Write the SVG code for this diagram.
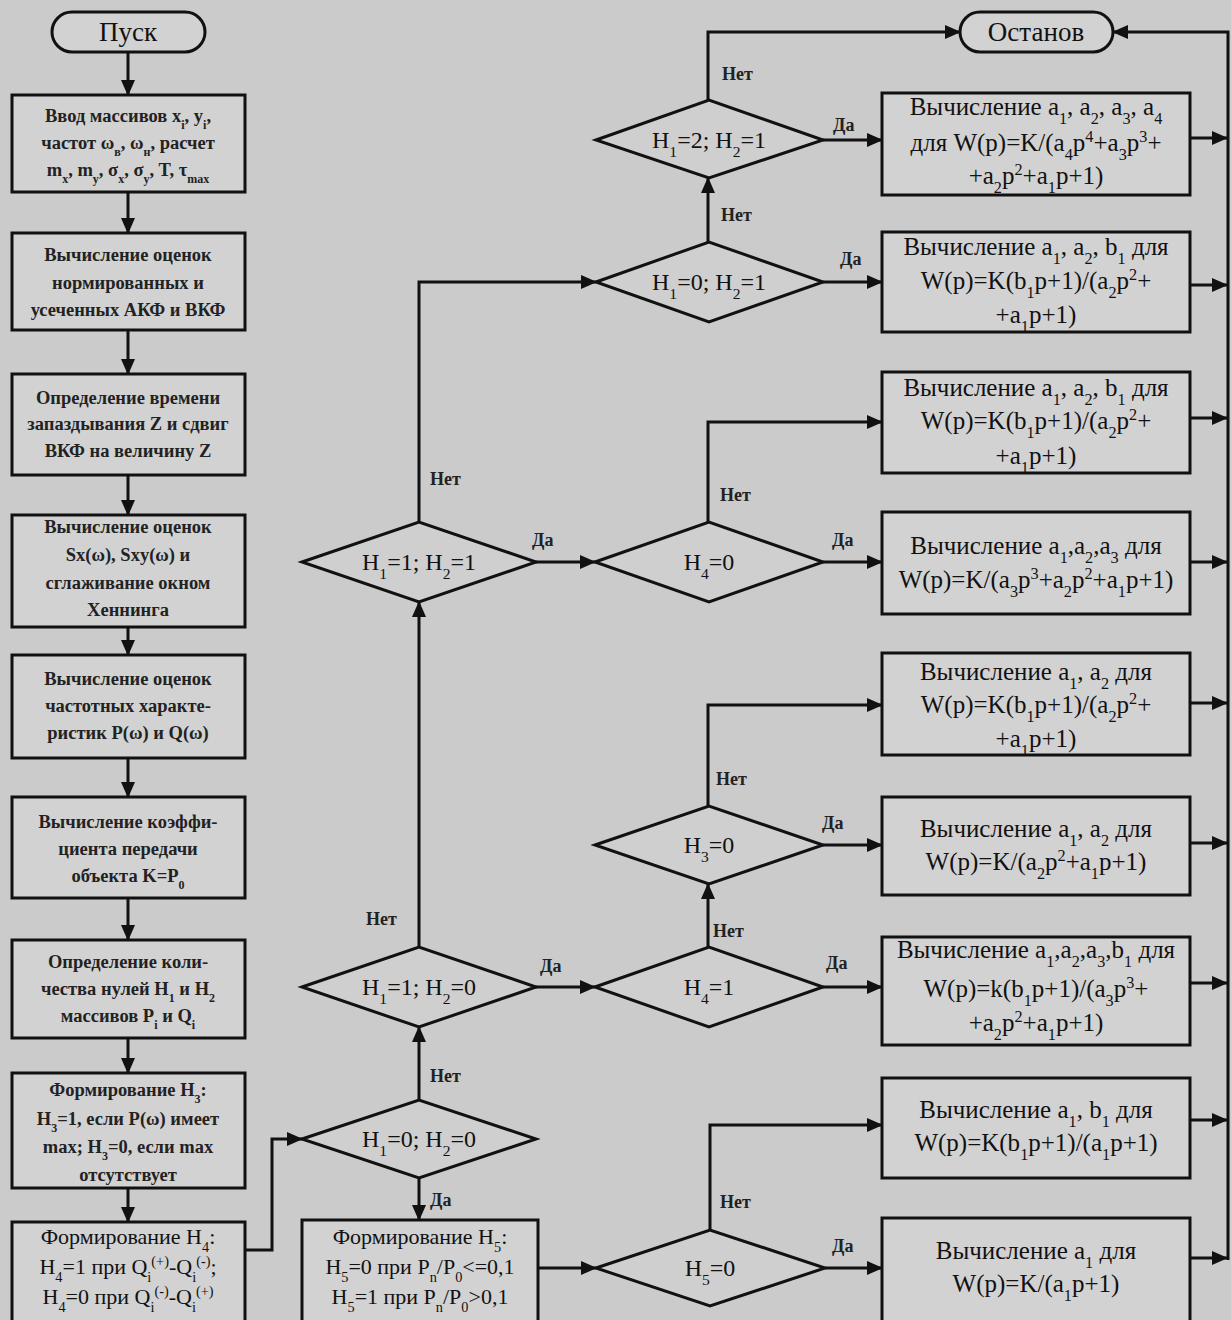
<svg xmlns="http://www.w3.org/2000/svg" width="1231" height="1320" viewBox="0 0 1231 1320">
<defs>
<marker id="ah" markerWidth="16" markerHeight="14" refX="15" refY="7" orient="auto" markerUnits="userSpaceOnUse">
<path d="M0,0 L16,7 L0,14 Z" fill="#111"/>
</marker>
<style>
.bg{fill:#cbcbcb}
.box{fill:#d2d2d2;stroke:#111;stroke-width:3}
.dia{fill:#cfcfcf;stroke:#111;stroke-width:3}
.ln{fill:none;stroke:#111;stroke-width:3}
.lt{font-family:"Liberation Serif",serif;font-size:18.5px;font-weight:bold;fill:#222;text-anchor:middle}
.lt2{font-family:"Liberation Serif",serif;font-size:22px;fill:#111;text-anchor:middle}
.rt{font-family:"Liberation Serif",serif;font-size:25px;fill:#111;text-anchor:middle}
.dt{font-family:"Liberation Serif",serif;font-size:24px;fill:#111;text-anchor:middle}
.tt{font-family:"Liberation Serif",serif;font-size:27px;fill:#111;text-anchor:middle}
.lb{font-family:"Liberation Serif",serif;font-size:18px;font-weight:bold;fill:#222}
.s{font-size:65%;baseline-shift:sub}
.p{font-size:65%;baseline-shift:super}
</style>
</defs>
<rect class="bg" x="0" y="0" width="1231" height="1320"/>

<g id="connectors">
<path class="ln" d="M128,52 V95" marker-end="url(#ah)"/>
<path class="ln" d="M128,192 V233" marker-end="url(#ah)"/>
<path class="ln" d="M128,330 V374" marker-end="url(#ah)"/>
<path class="ln" d="M128,475 V515" marker-end="url(#ah)"/>
<path class="ln" d="M128,627 V655" marker-end="url(#ah)"/>
<path class="ln" d="M128,758 V797" marker-end="url(#ah)"/>
<path class="ln" d="M128,898 V940" marker-end="url(#ah)"/>
<path class="ln" d="M128,1038 V1073" marker-end="url(#ah)"/>
<path class="ln" d="M128,1188 V1222" marker-end="url(#ah)"/>
<path class="ln" d="M245,1250 H272 V1139 H302" marker-end="url(#ah)"/>
<path class="ln" d="M419,1178 V1220" marker-end="url(#ah)"/>
<path class="ln" d="M419,1100 V1027" marker-end="url(#ah)"/>
<path class="ln" d="M419,947 V602" marker-end="url(#ah)"/>
<path class="ln" d="M419,522 V282 H596" marker-end="url(#ah)"/>
<path class="ln" d="M535,562 H595" marker-end="url(#ah)"/>
<path class="ln" d="M535,987 H595" marker-end="url(#ah)"/>
<path class="ln" d="M823,562 H882" marker-end="url(#ah)"/>
<path class="ln" d="M708,522 V422 H882" marker-end="url(#ah)"/>
<path class="ln" d="M823,987 H882" marker-end="url(#ah)"/>
<path class="ln" d="M708,947 V884" marker-end="url(#ah)"/>
<path class="ln" d="M823,845 H882" marker-end="url(#ah)"/>
<path class="ln" d="M708,806 V705 H882" marker-end="url(#ah)"/>
<path class="ln" d="M823,282 H882" marker-end="url(#ah)"/>
<path class="ln" d="M708,242 V178" marker-end="url(#ah)"/>
<path class="ln" d="M823,140 H882" marker-end="url(#ah)"/>
<path class="ln" d="M708,100 V32 H960" marker-end="url(#ah)"/>
<path class="ln" d="M538,1268 H596" marker-end="url(#ah)"/>
<path class="ln" d="M710,1230 V1125 H882" marker-end="url(#ah)"/>
<path class="ln" d="M825,1268 H882" marker-end="url(#ah)"/>
<path class="ln" d="M1190,138 H1227" marker-end="url(#ah)"/>
<path class="ln" d="M1190,285 H1227" marker-end="url(#ah)"/>
<path class="ln" d="M1190,418 H1227" marker-end="url(#ah)"/>
<path class="ln" d="M1190,562 H1227" marker-end="url(#ah)"/>
<path class="ln" d="M1190,703 H1227" marker-end="url(#ah)"/>
<path class="ln" d="M1190,843 H1227" marker-end="url(#ah)"/>
<path class="ln" d="M1190,983 H1227" marker-end="url(#ah)"/>
<path class="ln" d="M1190,1120 H1227" marker-end="url(#ah)"/>
<path class="ln" d="M1190,1258 H1227" marker-end="url(#ah)"/>
<path class="ln" d="M1228,1260 V32 H1113" marker-end="url(#ah)"/>
<text class="lb" x="430" y="1082">Нет</text>
<text class="lb" x="430" y="1206">Да</text>
<text class="lb" x="366" y="925">Нет</text>
<text class="lb" x="430" y="485">Нет</text>
<text class="lb" x="532" y="546">Да</text>
<text class="lb" x="540" y="972">Да</text>
<text class="lb" x="832" y="546">Да</text>
<text class="lb" x="720" y="501">Нет</text>
<text class="lb" x="826" y="969">Да</text>
<text class="lb" x="713" y="937">Нет</text>
<text class="lb" x="822" y="829">Да</text>
<text class="lb" x="716" y="785">Нет</text>
<text class="lb" x="840" y="265">Да</text>
<text class="lb" x="721" y="221">Нет</text>
<text class="lb" x="833" y="131">Да</text>
<text class="lb" x="722" y="80">Нет</text>
<text class="lb" x="720" y="1208">Нет</text>
<text class="lb" x="832" y="1252">Да</text>
</g>

<g id="start"><rect class="box" x="52" y="12" width="153" height="40" rx="20"/><text class="tt" x="128" y="41">Пуск</text></g>
<g id="stop"><rect class="box" x="960" y="12" width="153" height="40" rx="20"/><text class="tt" x="1036" y="41">Останов</text></g>

<g id="b1"><rect class="box" x="12" y="95" width="233" height="97"/>
<text class="lt" x="128" y="122">Ввод массивов x<tspan class="s">i</tspan>, y<tspan class="s">i</tspan>,</text>
<text class="lt" x="128" y="149">частот ω<tspan class="s">в</tspan>, ω<tspan class="s">н</tspan>, расчет</text>
<text class="lt" x="128" y="176">m<tspan class="s">x</tspan>, m<tspan class="s">y</tspan>, σ<tspan class="s">x</tspan>, σ<tspan class="s">y</tspan>, T, τ<tspan class="s">max</tspan></text></g>
<g id="b2"><rect class="box" x="12" y="233" width="233" height="97"/>
<text class="lt" x="128" y="261">Вычисление оценок</text>
<text class="lt" x="128" y="289">нормированных и</text>
<text class="lt" x="128" y="316">усеченных АКФ и ВКФ</text></g>
<g id="b3"><rect class="box" x="12" y="374" width="233" height="101"/>
<text class="lt" x="128" y="404">Определение времени</text>
<text class="lt" x="128" y="430">запаздывания Z и сдвиг</text>
<text class="lt" x="128" y="457">ВКФ на величину Z</text></g>
<g id="b4"><rect class="box" x="12" y="515" width="233" height="112"/>
<text class="lt" x="128" y="533">Вычисление оценок</text>
<text class="lt" x="128" y="561">Sx(ω), Sxy(ω) и</text>
<text class="lt" x="128" y="589">сглаживание окном</text>
<text class="lt" x="128" y="616">Хеннинга</text></g>
<g id="b5"><rect class="box" x="12" y="655" width="233" height="103"/>
<text class="lt" x="128" y="685">Вычисление оценок</text>
<text class="lt" x="128" y="712">частотных характе-</text>
<text class="lt" x="128" y="739">ристик P(ω) и Q(ω)</text></g>
<g id="b6"><rect class="box" x="12" y="797" width="233" height="101"/>
<text class="lt" x="128" y="828">Вычисление коэффи-</text>
<text class="lt" x="128" y="855">циента передачи</text>
<text class="lt" x="128" y="882">объекта K=P<tspan class="s">0</tspan></text></g>
<g id="b7"><rect class="box" x="12" y="940" width="233" height="98"/>
<text class="lt" x="128" y="968">Определение коли-</text>
<text class="lt" x="128" y="995">чества нулей H<tspan class="s">1</tspan> и H<tspan class="s">2</tspan></text>
<text class="lt" x="128" y="1022">массивов P<tspan class="s">i</tspan> и Q<tspan class="s">i</tspan></text></g>
<g id="b8"><rect class="box" x="12" y="1073" width="233" height="115"/>
<text class="lt" x="128" y="1096">Формирование H<tspan class="s">3</tspan>:</text>
<text class="lt" x="128" y="1125">H<tspan class="s">3</tspan>=1, если P(ω) имеет</text>
<text class="lt" x="128" y="1153">max; H<tspan class="s">3</tspan>=0, если max</text>
<text class="lt" x="128" y="1181">отсутствует</text></g>
<g id="b9"><rect class="box" x="12" y="1222" width="233" height="110"/>
<text class="lt2" x="128" y="1244">Формирование H<tspan class="s">4</tspan>:</text>
<text class="lt2" x="128" y="1274">H<tspan class="s">4</tspan>=1 при Q<tspan class="s">i</tspan><tspan class="p">(+)</tspan>-Q<tspan class="s">i</tspan><tspan class="p">(-)</tspan>;</text>
<text class="lt2" x="128" y="1304">H<tspan class="s">4</tspan>=0 при Q<tspan class="s">i</tspan><tspan class="p">(-)</tspan>-Q<tspan class="s">i</tspan><tspan class="p">(+)</tspan></text></g>

<g id="h5box"><rect class="box" x="302" y="1220" width="236" height="112"/>
<text class="lt2" x="420" y="1244">Формирование H<tspan class="s">5</tspan>:</text>
<text class="lt2" x="420" y="1274">H<tspan class="s">5</tspan>=0 при P<tspan class="s">n</tspan>/P<tspan class="s">0</tspan>&lt;=0,1</text>
<text class="lt2" x="420" y="1304">H<tspan class="s">5</tspan>=1 при P<tspan class="s">n</tspan>/P<tspan class="s">0</tspan>&gt;0,1</text></g>

<g id="d00"><polygon class="dia" points="302,1139 419,1100 536,1139 419,1178"/><text class="dt" x="419" y="1147">H<tspan class="s">1</tspan>=0; H<tspan class="s">2</tspan>=0</text></g>
<g id="d10"><polygon class="dia" points="302,987 419,947 536,987 419,1027"/><text class="dt" x="419" y="995">H<tspan class="s">1</tspan>=1; H<tspan class="s">2</tspan>=0</text></g>
<g id="d11"><polygon class="dia" points="302,562 419,522 536,562 419,602"/><text class="dt" x="419" y="570">H<tspan class="s">1</tspan>=1; H<tspan class="s">2</tspan>=1</text></g>
<g id="d01"><polygon class="dia" points="596,282 709,242 823,282 709,322"/><text class="dt" x="709" y="290">H<tspan class="s">1</tspan>=0; H<tspan class="s">2</tspan>=1</text></g>
<g id="d21"><polygon class="dia" points="596,140 709,100 823,140 709,178"/><text class="dt" x="709" y="148">H<tspan class="s">1</tspan>=2; H<tspan class="s">2</tspan>=1</text></g>
<g id="d40"><polygon class="dia" points="595,562 709,522 823,562 709,602"/><text class="dt" x="709" y="570">H<tspan class="s">4</tspan>=0</text></g>
<g id="d41"><polygon class="dia" points="595,987 709,947 823,987 709,1027"/><text class="dt" x="709" y="995">H<tspan class="s">4</tspan>=1</text></g>
<g id="d30"><polygon class="dia" points="595,845 709,806 823,845 709,884"/><text class="dt" x="709" y="853">H<tspan class="s">3</tspan>=0</text></g>
<g id="d50"><polygon class="dia" points="596,1268 710,1230 825,1268 710,1306"/><text class="dt" x="710" y="1276">H<tspan class="s">5</tspan>=0</text></g>

<g id="r1"><rect class="box" x="882" y="93" width="308" height="102"/>
<text class="rt" x="1036" y="115">Вычисление a<tspan class="s">1</tspan>, a<tspan class="s">2</tspan>, a<tspan class="s">3</tspan>, a<tspan class="s">4</tspan></text>
<text class="rt" x="1036" y="151">для W(p)=K/(a<tspan class="s">4</tspan>p<tspan class="p">4</tspan>+a<tspan class="s">3</tspan>p<tspan class="p">3</tspan>+</text>
<text class="rt" x="1036" y="184">+a<tspan class="s">2</tspan>p<tspan class="p">2</tspan>+a<tspan class="s">1</tspan>p+1)</text></g>
<g id="r2"><rect class="box" x="882" y="232" width="308" height="100"/>
<text class="rt" x="1036" y="255">Вычисление a<tspan class="s">1</tspan>, a<tspan class="s">2</tspan>, b<tspan class="s">1</tspan> для</text>
<text class="rt" x="1036" y="289">W(p)=K(b<tspan class="s">1</tspan>p+1)/(a<tspan class="s">2</tspan>p<tspan class="p">2</tspan>+</text>
<text class="rt" x="1036" y="323">+a<tspan class="s">1</tspan>p+1)</text></g>
<g id="r3"><rect class="box" x="882" y="372" width="308" height="101"/>
<text class="rt" x="1036" y="396">Вычисление a<tspan class="s">1</tspan>, a<tspan class="s">2</tspan>, b<tspan class="s">1</tspan> для</text>
<text class="rt" x="1036" y="429">W(p)=K(b<tspan class="s">1</tspan>p+1)/(a<tspan class="s">2</tspan>p<tspan class="p">2</tspan>+</text>
<text class="rt" x="1036" y="464">+a<tspan class="s">1</tspan>p+1)</text></g>
<g id="r4"><rect class="box" x="882" y="512" width="308" height="102"/>
<text class="rt" x="1036" y="554">Вычисление a<tspan class="s">1</tspan>,a<tspan class="s">2</tspan>,a<tspan class="s">3</tspan> для</text>
<text class="rt" x="1036" y="588">W(p)=K/(a<tspan class="s">3</tspan>p<tspan class="p">3</tspan>+a<tspan class="s">2</tspan>p<tspan class="p">2</tspan>+a<tspan class="s">1</tspan>p+1)</text></g>
<g id="r5"><rect class="box" x="882" y="653" width="308" height="102"/>
<text class="rt" x="1036" y="680">Вычисление a<tspan class="s">1</tspan>, a<tspan class="s">2</tspan> для</text>
<text class="rt" x="1036" y="713">W(p)=K(b<tspan class="s">1</tspan>p+1)/(a<tspan class="s">2</tspan>p<tspan class="p">2</tspan>+</text>
<text class="rt" x="1036" y="747">+a<tspan class="s">1</tspan>p+1)</text></g>
<g id="r6"><rect class="box" x="882" y="797" width="308" height="98"/>
<text class="rt" x="1036" y="837">Вычисление a<tspan class="s">1</tspan>, a<tspan class="s">2</tspan> для</text>
<text class="rt" x="1036" y="870">W(p)=K/(a<tspan class="s">2</tspan>p<tspan class="p">2</tspan>+a<tspan class="s">1</tspan>p+1)</text></g>
<g id="r7"><rect class="box" x="882" y="937" width="308" height="108"/>
<text class="rt" x="1036" y="958">Вычисление a<tspan class="s">1</tspan>,a<tspan class="s">2</tspan>,a<tspan class="s">3</tspan>,b<tspan class="s">1</tspan> для</text>
<text class="rt" x="1036" y="997">W(p)=k(b<tspan class="s">1</tspan>p+1)/(a<tspan class="s">3</tspan>p<tspan class="p">3</tspan>+</text>
<text class="rt" x="1036" y="1031">+a<tspan class="s">2</tspan>p<tspan class="p">2</tspan>+a<tspan class="s">1</tspan>p+1)</text></g>
<g id="r8"><rect class="box" x="882" y="1078" width="308" height="100"/>
<text class="rt" x="1036" y="1118">Вычисление a<tspan class="s">1</tspan>, b<tspan class="s">1</tspan> для</text>
<text class="rt" x="1036" y="1151">W(p)=K(b<tspan class="s">1</tspan>p+1)/(a<tspan class="s">1</tspan>p+1)</text></g>
<g id="r9"><rect class="box" x="882" y="1218" width="308" height="112"/>
<text class="rt" x="1036" y="1259">Вычисление a<tspan class="s">1</tspan> для</text>
<text class="rt" x="1036" y="1292">W(p)=K/(a<tspan class="s">1</tspan>p+1)</text></g>
</svg>
